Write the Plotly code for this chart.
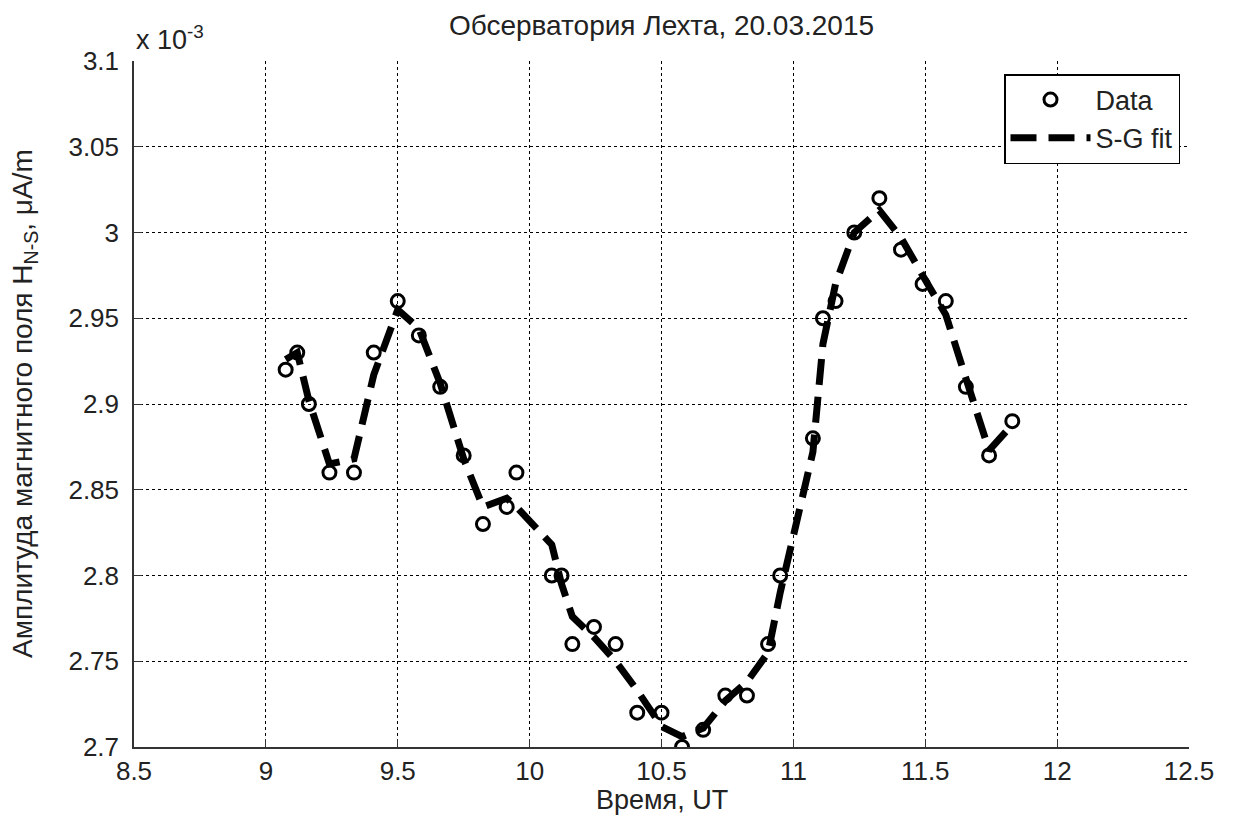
import plotly.graph_objects as go

# Time, UT (hours)
time_ut = [9.075, 9.119, 9.163, 9.241, 9.334, 9.409, 9.500, 9.580, 9.661, 9.750,
           9.823, 9.913, 9.950, 10.084, 10.121, 10.162, 10.244, 10.326, 10.408, 10.500,
           10.578, 10.658, 10.742, 10.824, 10.904, 10.950, 11.074, 11.112, 11.160, 11.231,
           11.326, 11.408, 11.490, 11.578, 11.654, 11.742, 11.830]

# Amplitude H_N-S (x 1e-3 uA/m), measured data
amp_data = [2.92, 2.93, 2.90, 2.86, 2.86, 2.93, 2.96, 2.94, 2.91, 2.87,
            2.83, 2.84, 2.86, 2.80, 2.80, 2.76, 2.77, 2.76, 2.72, 2.72,
            2.70, 2.71, 2.73, 2.73, 2.76, 2.80, 2.88, 2.95, 2.96, 3.00,
            3.02, 2.99, 2.97, 2.96, 2.91, 2.87, 2.89]

# Savitzky-Golay fit
amp_fit = [2.926, 2.930, 2.902, 2.865, 2.868, 2.917, 2.955, 2.944, 2.912, 2.868,
           2.840, 2.845, 2.840, 2.818, 2.795, 2.776, 2.764, 2.750, 2.733, 2.712,
           2.706, 2.711, 2.727, 2.738, 2.755, 2.790, 2.872, 2.935, 2.970, 3.000,
           3.013, 2.997, 2.975, 2.952, 2.915, 2.873, 2.888]

x_ticks = [8.5, 9, 9.5, 10, 10.5, 11, 11.5, 12, 12.5]
x_tick_text = ["8.5", "9", "9.5", "10", "10.5", "11", "11.5", "12", "12.5"]
y_ticks = [2.7, 2.75, 2.8, 2.85, 2.9, 2.95, 3.0, 3.05, 3.1]
y_tick_text = ["2.7", "2.75", "2.8", "2.85", "2.9", "2.95", "3", "3.05", "3.1"]

FONT = "Liberation Sans, Arial, Helvetica, sans-serif"
FS = 27
TXT = "#222"

fig = go.Figure()
fig.add_trace(go.Scatter(
    x=time_ut, y=amp_data, mode="markers", name="Data",
    marker=dict(symbol="circle-open", size=13, color="black", line=dict(width=3, color="black")),
))
fig.add_trace(go.Scatter(
    x=time_ut, y=amp_fit, mode="lines", name="S-G fit",
    line=dict(color="black", width=7, dash="26px,12px"),
))

grid_dash = "3px,3px"
fig.update_xaxes(
    range=[8.5, 12.5], tickvals=x_ticks, ticktext=x_tick_text,
    showgrid=True, gridcolor="black", gridwidth=1, griddash=grid_dash,
    showline=True, linecolor="#333", linewidth=1.5, mirror=False,
    ticks="inside", ticklen=8, tickcolor="#333", zeroline=False,
    tickfont=dict(family=FONT, size=26, color=TXT),
)
fig.update_yaxes(
    range=[2.7, 3.1], tickvals=y_ticks, ticktext=y_tick_text,
    showgrid=True, gridcolor="black", gridwidth=1, griddash=grid_dash,
    showline=True, linecolor="#333", linewidth=1.5, mirror=False,
    ticks="inside", ticklen=8, tickcolor="#333", zeroline=False,
    ticklabelstandoff=8,
    tickfont=dict(family=FONT, size=26, color=TXT),
)

W, H = 1234, 818
L, R, T, B = 134, 45, 61, 71
pw, ph = W - L - R, H - T - B

fig.update_layout(
    width=W, height=H,
    margin=dict(l=L, r=R, t=T, b=B),
    plot_bgcolor="white", paper_bgcolor="white",
    font=dict(family=FONT, size=FS, color=TXT),
    title=dict(text="Обсерватория Лехта, 20.03.2015", x=(L + pw / 2) / W, xanchor="center",
               y=1 - 25 / H, yanchor="middle", font=dict(family=FONT, size=28, color=TXT)),
    showlegend=True,
    legend=dict(x=(1180 - L) / pw, xanchor="right", y=1 - (74 - T) / ph, yanchor="top",
                bgcolor="white", bordercolor="black", borderwidth=1.5,
                font=dict(family=FONT, size=FS, color=TXT), itemwidth=80,
                tracegroupgap=0),
    annotations=[
        dict(text="Время, UT", xref="paper", yref="paper", x=0.5, y=-(800 - (T + ph)) / ph,
             xanchor="center", yanchor="middle", showarrow=False,
             font=dict(family=FONT, size=FS, color=TXT)),
        dict(text="Амплитуда магнитного поля H<sub>N-S</sub>, μA/m", xref="paper", yref="paper",
             x=-(L - 24) / pw, y=0.5, xanchor="center", yanchor="middle", textangle=-90,
             showarrow=False, font=dict(family=FONT, size=28, color=TXT)),
        dict(text="x 10<sup>-3</sup>", xref="paper", yref="paper", x=0, y=1 + 4 / ph,
             xanchor="left", yanchor="bottom", showarrow=False,
             font=dict(family=FONT, size=FS, color=TXT)),
    ],
)

fig.write_html("out.html")
